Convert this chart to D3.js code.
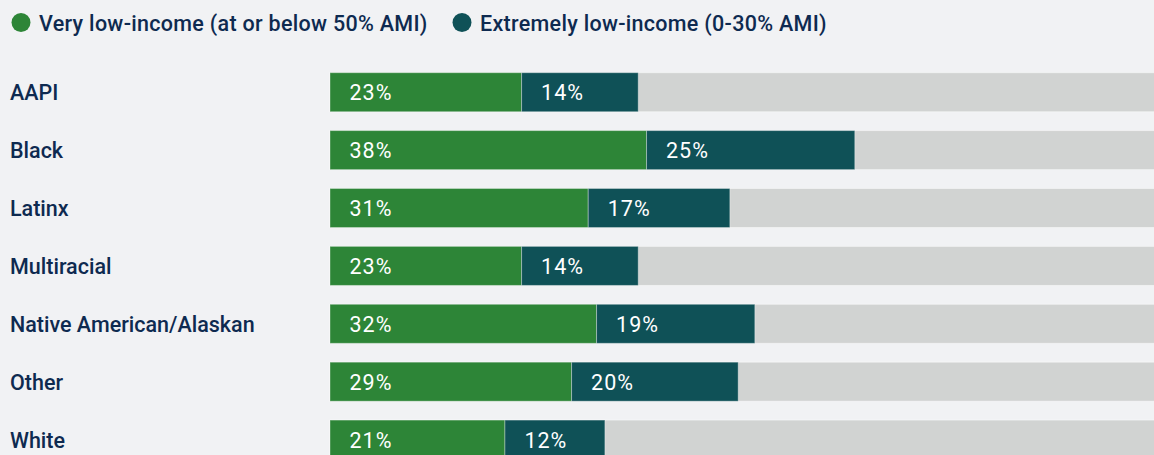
<!DOCTYPE html>
<html>
<head>
<meta charset="utf-8">
<script src="https://cdn.jsdelivr.net/npm/d3@7"></script>
<style>
  html, body { margin: 0; padding: 0; background: #f1f2f4; overflow: hidden; }
  .canvas { width: 1154px; height: 455px; }
</style>
</head>
<body>
<div class="canvas"></div>
<script>
var width = 1154,
	height = 455;

// data
var categories = ["AAPI", "Black", "Latinx", "Multiracial", "Native American/Alaskan", "Other", "White"];
var veryLow = [23, 38, 31, 23, 32, 29, 21];
var extremelyLow = [14, 25, 17, 14, 19, 20, 12];
var seriesNames = ["Very low-income (at or below 50% AMI)", "Extremely low-income (0-30% AMI)"];
var seriesColors = ["#2d8537", "#0f5157"];

var textColor = "#0e2a50",
	fontFamily = "Roboto, 'Liberation Sans', Arial, sans-serif";

var canvas = d3.select(".canvas")
	.append("svg")
	.attr("width", width)
	.attr("height", height)
	.style("background", "#f1f2f4");

var scale_x = d3.scaleLinear()
	.domain([0, 100])
	.range([330, 1163]);

var scale_y = d3.scaleBand()
	.domain(categories)
	.range([72.7, 459.1])
	.paddingInner(0.326)
	.paddingOuter(0);

/* ---------- legend ---------- */
var legendX = [21, 462];
var legend = canvas.append("g");
seriesNames.forEach(function(name, i) {
	legend.append("circle")
		.attr("cx", legendX[i])
		.attr("cy", 22.5)
		.attr("r", 9.5)
		.attr("fill", seriesColors[i]);
	legend.append("text")
		.attr("x", legendX[i] + 18)
		.attr("y", 31)
		.text(name)
		.attr("font-family", fontFamily)
		.attr("font-size", "21.5px")
		.attr("font-weight", 500)
		.attr("letter-spacing", "0.3px")
		.attr("fill", textColor);
});

/* ---------- rows ---------- */
var rows = canvas.selectAll(".row")
	.data(categories)
	.enter().append("g")
	.attr("class", "row");

// category labels
rows.append("text")
	.attr("x", 10)
	.attr("y", function(d) { return scale_y(d) + scale_y.bandwidth() / 2 + 8; })
	.text(function(d) { return d; })
	.attr("font-family", fontFamily)
	.attr("font-size", "21.5px")
	.attr("font-weight", 500)
	.attr("fill", textColor);

// grey track
rows.append("rect")
	.attr("x", scale_x(0))
	.attr("y", function(d) { return scale_y(d); })
	.attr("width", scale_x(100) - scale_x(0))
	.attr("height", scale_y.bandwidth())
	.attr("fill", "#d1d3d2")
	.attr("stroke", "rgba(255,255,255,0.45)")
	.attr("stroke-width", 1);

// stacked segments
var segs = [];
categories.forEach(function(c, i) {
	segs.push({cat: c, x0: 0, x1: veryLow[i], v: veryLow[i], s: 0});
	segs.push({cat: c, x0: veryLow[i], x1: veryLow[i] + extremelyLow[i], v: extremelyLow[i], s: 1});
});

canvas.selectAll(".seg")
	.data(segs)
	.enter().append("rect")
	.attr("class", "seg")
	.attr("x", function(d) { return scale_x(d.x0); })
	.attr("y", function(d) { return scale_y(d.cat); })
	.attr("width", function(d) { return scale_x(d.x1) - scale_x(d.x0); })
	.attr("height", scale_y.bandwidth())
	.attr("fill", function(d) { return seriesColors[d.s]; })
	.attr("stroke", "rgba(255,255,255,0.35)")
	.attr("stroke-width", 1);

canvas.selectAll(".seg-label")
	.data(segs)
	.enter().append("text")
	.attr("class", "seg-label")
	.attr("x", function(d) { return scale_x(d.x0) + 19.5; })
	.attr("y", function(d) { return scale_y(d.cat) + scale_y.bandwidth() / 2 + 8; })
	.text(function(d) { return d.v + "%"; })
	.attr("font-family", fontFamily)
	.attr("font-size", "21.5px")
	.attr("letter-spacing", "1px")
	.attr("fill", "#ffffff");
</script>
</body>
</html>
